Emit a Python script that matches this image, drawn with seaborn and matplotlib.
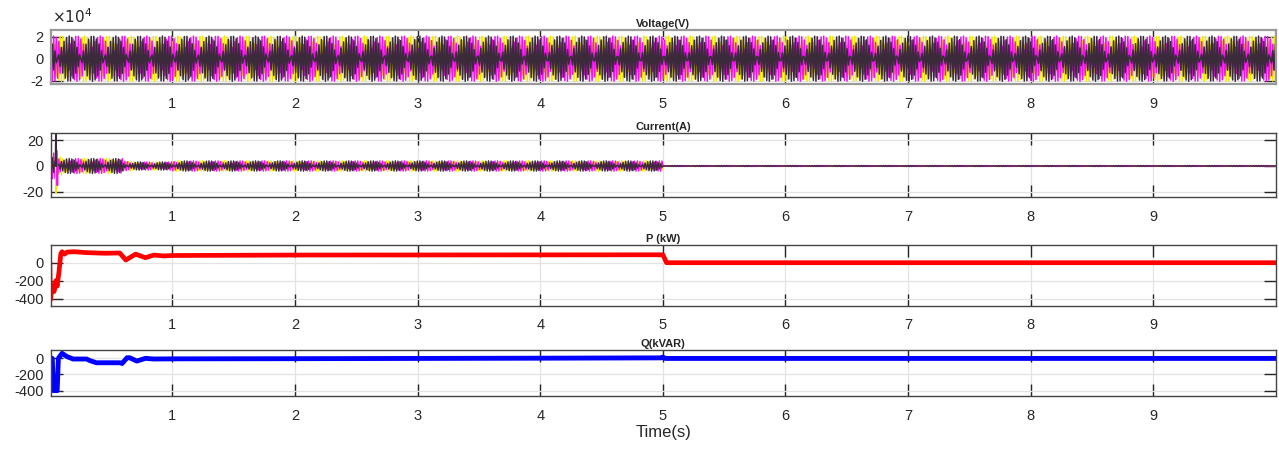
import numpy as np
import pandas as pd
import matplotlib
matplotlib.use("Agg")
import matplotlib.pyplot as plt
import seaborn as sns

# -----------------------------
# DATA
# -----------------------------
# recorded sample step of the scope data (s) and the 3-phase set-up
sample_dt = 0.010555
t_end = 10.0
grid_freq = 50.0
phase_names = ["Phase A", "Phase B", "Phase C"]
phase_colors = ["#f2e600", "#f010f0", "#3a2a3a"]
phase_shift_deg = [0.0, -120.0, 120.0]

# voltage peak, in units of 1e4 V
voltage_peak = 2.05

# current envelope, piecewise per time segment (A)
current_seg_start = [0.0, 0.05, 0.10, 0.60, 0.66, 1.0, 5.0]
current_seg_amp = [10.0, 7.0, 5.8, 3.8, 3.2, 4.0, 0.4]
# short start-up spikes per phase (time s, value A)
spike_times = [[0.052], [0.055, 0.062], [0.050]]
spike_values = [[-21.0], [12.0, -15.0], [27.0]]

# active power P (kW)
p_time = [0.0, 0.005, 0.02, 0.035, 0.05, 0.06, 0.075, 0.09, 0.10, 0.12, 0.14, 0.2,
          0.3, 0.45, 0.57, 0.62, 0.70, 0.78, 0.85, 0.93, 1.0, 2.0, 3.0, 4.0, 5.0,
          5.03, 6.0, 8.0, 10.0]
p_value = [10, -414, -248, -320, -200, -260, -100, 100, 122, 95, 118, 122,
           112, 105, 108, 30, 95, 56, 85, 75, 80, 85, 86, 87, 88,
           0, 0, 0, 0]

# reactive power Q (kVAR)
q_time = [0.0, 0.02, 0.03, 0.06, 0.07, 0.10, 0.14, 0.19, 0.30, 0.33, 0.38, 0.57,
          0.59, 0.63, 0.65, 0.71, 0.78, 0.85, 1.0, 2.0, 3.0, 4.0, 4.99, 5.0,
          5.02, 6.0, 8.0, 10.0]
q_value = [8, -4, -400, -400, -4, 58, 17, -12, -12, -33, -58, -58,
           -67, 4, 4, -37, -4, -12, -10, -8, -5, -2, 2, 12,
           -5, -5, -5, -5]

time_ticks = [1, 2, 3, 4, 5, 6, 7, 8, 9]

# -----------------------------
# BUILD WAVEFORM TABLES
# -----------------------------
t = np.arange(0.0, t_end, sample_dt)
seg_idx = np.searchsorted(current_seg_start, t, side="right") - 1
cur_amp = np.array(current_seg_amp)[seg_idx]

rows_v, rows_i = [], []
for name, sh in zip(phase_names, phase_shift_deg):
    wave = np.sin(2 * np.pi * grid_freq * t + np.deg2rad(sh))
    rows_v.append(pd.DataFrame({"t": t, "v": voltage_peak * wave, "phase": name}))
    rows_i.append(pd.DataFrame({"t": t, "i": cur_amp * wave, "phase": name}))
volt = pd.concat(rows_v, ignore_index=True)
curr = pd.concat(rows_i, ignore_index=True)
power = pd.DataFrame({"t": p_time, "P": p_value})
react = pd.DataFrame({"t": q_time, "Q": q_value})

# -----------------------------
# STYLE
# -----------------------------
sns.set_theme(style="whitegrid")
plt.rcParams["font.family"] = ["Liberation Sans", "DejaVu Sans"]
plt.rcParams["axes.unicode_minus"] = False

fig = plt.figure(figsize=(12.79, 4.49), dpi=100)
left, width = 0.0396, 0.958
ax_v = fig.add_axes([left, 0.8129, width, 0.1203])
ax_i = fig.add_axes([left, 0.5612, width, 0.1425])
ax_p = fig.add_axes([left, 0.3185, width, 0.1359])
ax_q = fig.add_axes([left, 0.1180, width, 0.1024])

palette = dict(zip(phase_names, phase_colors))

# -----------------------------
# 1. VOLTAGE
# -----------------------------
sns.lineplot(data=volt, x="t", y="v", hue="phase", palette=palette,
             estimator=None, sort=False, linewidth=1.1, legend=False, ax=ax_v)
ax_v.set_ylim(-2.3, 2.6)
ax_v.set_yticks([-2, 0, 2])
ax_v.set_title("Voltage(V)", fontsize=8, fontweight="bold", pad=2.5)
ax_v.text(0.001, 1.08, r"$\times10^{4}$", transform=ax_v.transAxes,
          fontsize=11, va="bottom", ha="left", color="#262626")

# -----------------------------
# 2. CURRENT
# -----------------------------
sns.lineplot(data=curr, x="t", y="i", hue="phase", palette=palette,
             estimator=None, sort=False, linewidth=1.0, legend=False, ax=ax_i)
for col, st, sv in zip(phase_colors, spike_times, spike_values):
    for ts, vs in zip(st, sv):
        ax_i.plot([ts - 0.004, ts, ts + 0.004], [0, vs, 0], color=col, lw=1.2)
ax_i.set_ylim(-24, 25.5)
ax_i.set_yticks([-20, 0, 20])
ax_i.set_title("Current(A)", fontsize=8, fontweight="bold", pad=2.5)

# -----------------------------
# 3. ACTIVE POWER
# -----------------------------
sns.lineplot(data=power, x="t", y="P", color="#ff0000", linewidth=3.4,
             estimator=None, ax=ax_p)
ax_p.set_ylim(-481, 197)
ax_p.set_yticks([-400, -200, 0])
ax_p.set_title("P (kW)", fontsize=8, fontweight="bold", pad=2.5)

# -----------------------------
# 4. REACTIVE POWER
# -----------------------------
sns.lineplot(data=react, x="t", y="Q", color="#0000ff", linewidth=3.5,
             estimator=None, ax=ax_q)
ax_q.set_ylim(-466, 98)
ax_q.set_yticks([-400, -200, 0])
ax_q.set_title("Q(kVAR)", fontsize=8, fontweight="bold", pad=2.5)
ax_q.set_xlabel("Time(s)", fontsize=12, labelpad=2)

# -----------------------------
# COMMON AXIS LOOK (scope style)
# -----------------------------
for ax in [ax_v, ax_i, ax_p, ax_q]:
    ax.set_xlim(0.007, 10.0)
    ax.set_xticks(time_ticks)
    ax.set_facecolor("white")
    ax.grid(True, color="#e3e3e3", linewidth=0.9)
    ax.set_axisbelow(True)
    ax.tick_params(direction="in", length=8.6, width=1.0, colors="#262626",
                   bottom=True, left=True, top=True, right=True, labelsize=10.5)
    ax.tick_params(axis="x", pad=9)
    ax.tick_params(axis="y", pad=5)
    edge = "#9a9a9a" if ax is ax_v else "#444444"
    for sp in ax.spines.values():
        sp.set_color(edge)
        sp.set_linewidth(1.6 if ax is ax_v else 1.0)
        sp.set_zorder(5)
    if ax is not ax_q:
        ax.set_xlabel("")
    ax.set_ylabel("")

fig.savefig("out.png", dpi=100)
